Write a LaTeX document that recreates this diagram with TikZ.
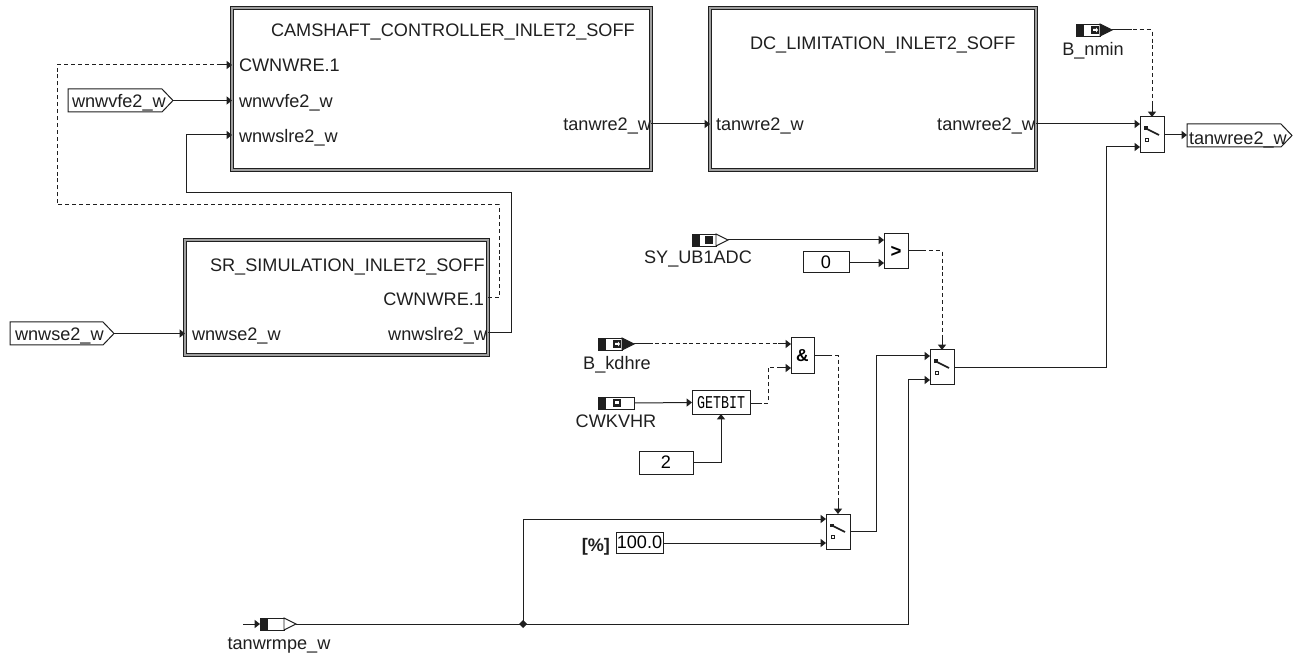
\documentclass[tikz,border=0pt]{standalone}
\usepackage{fontspec}
\setmainfont{Liberation Sans}
\newfontfamily\gbfont{Liberation Mono}
\usetikzlibrary{arrows.meta}
\definecolor{ln}{gray}{0.12}
\newcommand{\pxbox}[7]{%
 \pgfmathsetmacro{\cxx}{(#2+#4)/2}\pgfmathsetmacro{\cyy}{(#3+#5)/2}%
 \pgfmathsetmacro{\wxx}{(#4-#2)*0.75}\pgfmathsetmacro{\hyy}{(#5-#3)*0.75}%
 \node[#6,minimum width=\wxx pt,minimum height=\hyy pt] (#1) at (\cxx,\cyy) {#7};}
\newcommand{\swicon}[2]{%
 \draw[line width=1.2pt,ln] (#1+5,#2+11) -- (#1+19,#2+18);
 \fill[ln] (#1+4,#2+9.5) rectangle (#1+8,#2+13);
 \draw[ln,line width=.7pt] (#1+5.5,#2+21.5) rectangle (#1+8.5,#2+24.5);}
\newcommand{\srcsym}[4]{% name, x, y-center, tip fill
 \fill[ln] (#2,#3-6) rectangle (#2+8,#3+6);
 \draw[ln,line width=.7pt] (#2,#3-6) rectangle (#2+24,#3+6);
 \filldraw[ln,fill=#4,line width=.7pt] (#2+24,#3-6) -- (#2+36,#3) -- (#2+24,#3+6) -- cycle;
 \coordinate (#1) at (#2+36,#3);}
\newcommand{\arrmark}[2]{% black square with white arrow
 \fill[ln] (#1,#2-4) rectangle (#1+8,#2+4);
 \fill[white] (#1+2,#2-1) -- (#1+5,#2-1) -- (#1+5,#2-2.5) -- (#1+7,#2) -- (#1+5,#2+2.5) -- (#1+5,#2+1) -- (#1+2,#2+1) -- cycle;}
\tikzset{
 x=0.75pt,y=-0.75pt,
 wire/.style={draw=ln,line width=.75pt},
 sig/.style={wire,-{Triangle[length=4pt,width=6pt]}},
 ctl/.style={wire,dash pattern=on 3pt off 2.2pt},
 blockbox/.style={draw=ln,double=gray!75,double distance=1pt,line width=.75pt,inner sep=0pt,outer sep=0pt},
 opbox/.style={draw=ln,fill=white,line width=.75pt,inner sep=0pt,outer sep=0pt},
 tagshape/.style={draw=ln,line width=.75pt,fill=white},
 txt/.style={font=\fontsize{13.6pt}{15pt}\selectfont,text=ln,inner sep=0pt,outer sep=0pt},
 tl/.style={txt,anchor=base west},
 tr/.style={txt,anchor=base east},
 tc/.style={txt,anchor=base},
}
\begin{document}
\begin{tikzpicture}
\useasboundingbox (0,0) rectangle (1300,659);
% blocks
\pxbox{cam}{232}{8}{651}{170}{blockbox}{}
\pxbox{dc}{710}{8}{1036}{170}{blockbox}{}
\pxbox{sr}{185}{240}{488}{355}{blockbox}{}
\node[tl] (camt) at (271,37) {CAMSHAFT\_CONTROLLER\_INLET2\_SOFF};
\node[tl] (cam1) at (239,72) {CWNWRE.1};
\node[tl] (cam2) at (239,108) {wnwvfe2\_w};
\node[tl] (cam3) at (239,143) {wnwslre2\_w};
\node[tr] (cam4) at (651,131) {tanwre2\_w};
\node[tl] (dct) at (750,50) {DC\_LIMITATION\_INLET2\_SOFF};
\node[tl] (dc1) at (716,131) {tanwre2\_w};
\node[tr] (dc2) at (1035,131) {tanwree2\_w};
\node[tl] (srt) at (210,271.5) {SR\_SIMULATION\_INLET2\_SOFF};
\node[tr] (sr1) at (484,306) {CWNWRE.1};
\node[tl] (sr2) at (192,340.5) {wnwse2\_w};
\node[tr] (sr3) at (487,340.5) {wnwslre2\_w};
% tags
\draw[tagshape] (68,89) -- (162,89) -- (173,100.5) -- (162,112) -- (68,112) -- cycle;
\coordinate (tagvf) at (173,100.5);
\node[tl] (tagvft) at (72,108) {wnwvfe2\_w};
\draw[tagshape] (10,322) -- (103,322) -- (114,333.5) -- (103,345) -- (10,345) -- cycle;
\coordinate (tagse) at (114,333.5);
\node[tl] (tagset) at (15,340) {wnwse2\_w};
\draw[tagshape] (1187,124) -- (1281,124) -- (1292,135.5) -- (1281,147) -- (1187,147) -- cycle;
\coordinate (tagout) at (1187,135);
\node[tl] (tagoutt) at (1189,144.5) {tanwree2\_w};
% operators
\pxbox{sw1}{1140}{117}{1164}{153}{opbox}{}
\swicon{1140}{117}
\pxbox{sw2}{930}{350}{954}{385}{opbox}{}
\swicon{930}{350}
\pxbox{sw3}{826}{514}{850}{549}{opbox}{}
\swicon{826}{514}
\pxbox{gt}{884}{234}{908}{269}{opbox,font=\fontsize{14pt}{14pt}\bfseries\selectfont}{>}
\pxbox{andb}{791}{338}{814}{374}{opbox,font=\fontsize{13pt}{14pt}\bfseries\selectfont}{\&}
\pxbox{gb}{692}{391}{750}{414}{opbox}{\gbfont\fontsize{10pt}{10pt}\selectfont\scalebox{1}[1.35]{GETBIT}}
\pxbox{c0}{803}{252}{849}{273}{opbox,font=\fontsize{13.6pt}{14pt}\selectfont}{0}
\pxbox{c2}{639}{451}{693}{474}{opbox,font=\fontsize{13.6pt}{14pt}\selectfont}{2}
\pxbox{c100}{616}{532}{663}{553}{opbox,font=\fontsize{13.6pt}{14pt}\selectfont}{100.0}
\node[txt,font=\fontsize{13.6pt}{15pt}\bfseries\selectfont,anchor=base east] (pct) at (610,551) {[\%]};
% sources
\srcsym{snmin}{1076}{30}{ln}
\arrmark{1091}{30}
\node[tc] (lnmin) at (1093,55.5) {B\_nmin};
\srcsym{ssy}{692}{240}{white}
\fill[ln] (705,236) rectangle (713,244);
\node[tc] (lsy) at (698,264) {SY\_UB1ADC};
\srcsym{skd}{598}{344}{ln}
\arrmark{613}{344}
\node[tc] (lkd) at (617,369) {B\_kdhre};
\fill[ln] (598,397) rectangle (606,409);
\draw[ln,line width=.7pt] (598,397) rectangle (634,409);
\fill[ln] (613,399) rectangle (621,407);\fill[white] (615,400.5) rectangle (619,404) ;
\coordinate (scw) at (634,403);
\node[tc] (lcw) at (616,427) {CWKVHR};
\coordinate (stanin) at (243,624);
\srcsym{stan}{260}{624}{white}
\node[tc] (ltan) at (279,649) {tanwrmpe\_w};
\coordinate (sp1) at (260,624);
\coordinate (jn) at (523,624);
% connectors
\draw[sig] (stanin) -- (sp1);
\draw[wire] (stan) -- (jn);
\fill[ln] (523,620) -- (527,624) -- (523,628) -- (519,624) -- cycle;
\draw[sig] (jn) |- (826,519);
\draw[sig] (jn) -- (908,624) -- (908,380) -- (930,380);
\draw[sig] (663,543) -- (826,543);
\draw[sig] (850,531) -- (876,531) -- (876,356) -- (930,356);
\draw[sig] (954,367.5) -- (1106,367.5) -- (1106,147) -- (1140,147);
\draw[sig] (1036,124) -- (1140,124);
\draw[sig] (1164,135) -- (tagout);
\draw[ctl] (snmin) -- (1152,30) -- (1152,110);
\draw[wire] (snmin) -- (1132,30);
\draw[sig] (1152,103) -- (sw1.north);
\draw[sig] (ssy) -- (884,240);
\draw[sig] (849,263) -- (884,263);
\draw[ctl] (908,251) -- (942,251) -- (942,340);
\draw[wire] (908,251) -- (922,251);
\draw[sig] (942,335) -- (sw2.north);
\draw[ctl] (skd) -- (785,344);
\draw[wire] (skd) -- (653,344);
\draw[sig] (778,344) -- (791,344);
\draw[ctl] (814,356) -- (838,356) -- (838,505);
\draw[wire] (814,356) -- (828,356);
\draw[sig] (838,499) -- (sw3.north);
\draw[sig] (scw) -- (gb.west);
\draw[ctl] (750,403) -- (768,403) -- (768,368) -- (786,368);
\draw[wire] (750,403) -- (762,403);
\draw[sig] (778,368) -- (791,368);
\draw[sig] (693,462) -- (721,462) -- (721,414);
\draw[sig] (tagse) -- (185,333.5);
\draw[sig] (tagvf) -- (232,100.5);
\draw[sig] (488,333) -- (511,333) -- (511,193) -- (186,193) -- (186,135) -- (232,135);
\draw[ctl] (488,298) -- (499,298) -- (499,205) -- (57,205) -- (57,65) -- (225,65);
\draw[sig] (218,65) -- (232,65);
\draw[sig] (651,124) -- (710,124);
\end{tikzpicture}
\end{document}
